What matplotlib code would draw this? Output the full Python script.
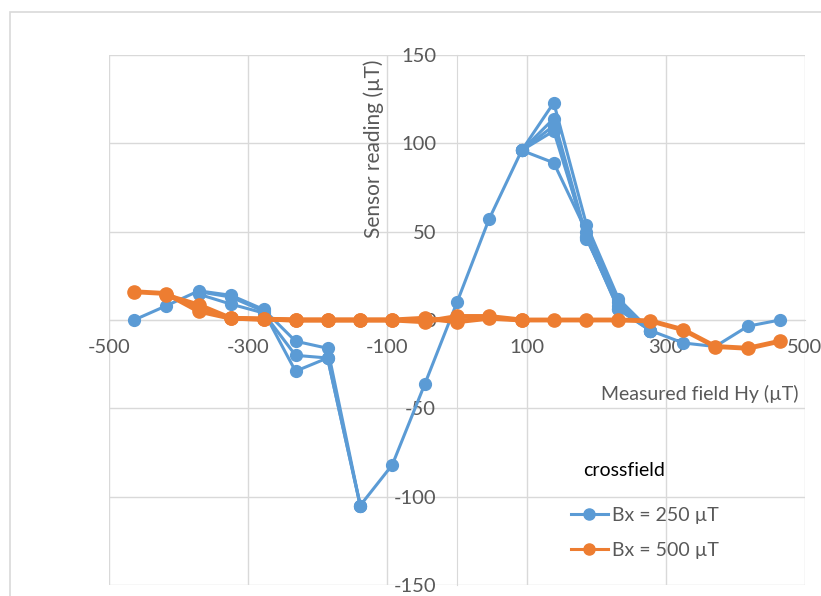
import matplotlib.pyplot as plt
from matplotlib.patches import Rectangle

plt.rcParams['font.family'] = ['Lato', 'DejaVu Sans']
plt.rcParams['axes.unicode_minus'] = False

# Field steps (µT) used in the sweeps
field_full = [-464, -418, -371, -325, -278, -232, -186, -139, -93, -46, 0,
              46, 93, 139, 186, 232, 278, 325, 371, 418, 464]

# Bx = 250 µT: one full sweep plus repeated partial sweeps
blue_full = [0, 8, 16.5, 14, 6, -12, -16, -105, -82, -36, 10,
             57, 96, 123, 54, 12, -6, -13, -15, -3.5, 0]
blue_left_x = [-371, -325, -278, -232, -186, -139]
blue_left_a = [14.6, 9, 4, -20, -21.5, -105]
blue_left_b = [16, 13, 5, -29, -21.5, -105]
blue_right_x = [93, 139, 186, 232, 278]
blue_right_a = [96, 114, 47, 6, -6]
blue_right_b = [96, 110, 46, 8, -6]
blue_right_c = [96, 107, 47, 6, -6]
blue_right_d = [96, 89, 50, 10, -6]

# Bx = 500 µT
orange_full = [16, 15, 5, 1, 0.5, 0, 0, 0, 0, -1, 2,
               2, 0, 0, 0, 0, -0.5, -5.5, -15, -16, -12]
orange_part_x = [-418, -371, -325, -278, -232, -186, -139, -93, -46, 0, 46, 93]
orange_part = [14, 8.5, 1, 0.5, 0, 0, 0, 0, 1, -1, 1, 0]

blue = '#5B9BD5'
orange = '#ED7D31'
grey_txt = '#595959'
grid_c = '#D9D9D9'

fig = plt.figure(figsize=(8.21, 5.96), dpi=100)
fig.patches.append(Rectangle((10 / 821, -0.1), 1.2, 1 - 12 / 596 + 0.1,
                             transform=fig.transFigure, fill=False,
                             edgecolor=grid_c, linewidth=1.2))
ax = fig.add_axes([109 / 821, 11 / 596, 696 / 821, 530 / 596])

bkw = dict(color=blue, lw=2.2, marker='o', ms=8.5, zorder=3)
ax.plot(field_full, blue_full, label='Bx = 250 µT', **bkw)
for ys in [blue_left_a, blue_left_b]:
    ax.plot(blue_left_x, ys, **bkw)
for ys in [blue_right_a, blue_right_b, blue_right_c, blue_right_d]:
    ax.plot(blue_right_x, ys, **bkw)

okw = dict(color=orange, lw=3.5, marker='o', ms=9.5, zorder=4)
ax.plot(field_full, orange_full, label='Bx = 500 µT', **okw)
ax.plot(orange_part_x, orange_part, **okw)

ax.set_xlim(-500, 500)
ax.set_ylim(-150, 150)
ax.set_xticks([-500, -300, -100, 100, 300, 500])
ax.set_yticks(range(-150, 151, 50))
ax.grid(True, color=grid_c, lw=1)
ax.set_axisbelow(True)

for s in ['top', 'right']:
    ax.spines[s].set_visible(False)
ax.spines['left'].set_position(('data', 0))
ax.spines['bottom'].set_position(('data', 0))
ax.spines['left'].set_color(grid_c)
ax.spines['bottom'].set_color(grid_c)
ax.tick_params(length=0, labelsize=14.5, labelcolor=grey_txt)
ax.tick_params(axis='x', pad=14)
ax.tick_params(axis='y', pad=15)

ax.text(-105, 97, 'Sensor reading (µT)', rotation=90, ha='right',
        va='center', fontsize=15, color=grey_txt)
ax.text(491, -42, 'Measured field Hy (µT)', ha='right', va='center',
        fontsize=14, color=grey_txt)

fig.text(583 / 821, 1 - 470 / 596, 'crossfield', ha='left', va='center',
         fontsize=14, color='black')
leg = ax.legend(loc='upper left', bbox_to_anchor=(561 / 821, 1 - 497 / 596),
                bbox_transform=fig.transFigure, frameon=False, borderpad=0,
                fontsize=14, labelcolor=grey_txt, handlelength=1.9,
                labelspacing=0.95, handletextpad=0.2)
for h in leg.get_lines():
    h.set_linewidth(2.2)
    h.set_markersize(8)

fig.savefig('out.png', dpi=100)
